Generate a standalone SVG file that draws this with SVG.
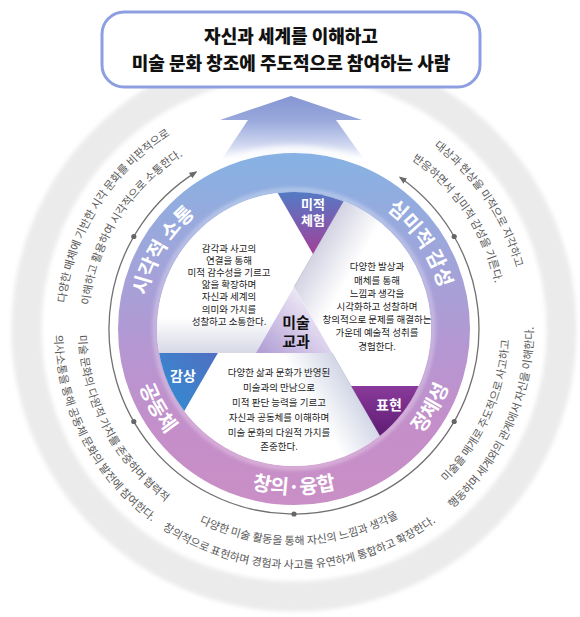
<svg xmlns="http://www.w3.org/2000/svg" width="580" height="617" viewBox="0 0 580 617">
<style>
text { font-family: "Noto Sans CJK KR", "Noto Sans", sans-serif; }
.outer { font-size: 11px; fill: #585858; }
.band { font-size: 20px; font-weight: 700; fill: #ffffff; }
.panel { font-size: 9.5px; fill: #222222; text-anchor: middle; }
.tri { font-size: 13px; font-weight: 700; fill: #ffffff; text-anchor: middle; }
.tri2 { font-size: 14px; font-weight: 700; fill: #ffffff; text-anchor: middle; }
.core { font-size: 15px; font-weight: 700; fill: #111111; text-anchor: middle; }
.title { font-size: 18px; font-weight: 900; fill: #111111; text-anchor: middle; }
.edge { stroke: #b9bbcc; stroke-width: 0.6; }
</style>
<defs>
<linearGradient id="bandGrad" gradientUnits="userSpaceOnUse" x1="0" y1="153" x2="0" y2="505">
 <stop offset="0" stop-color="#86b2e3"/>
 <stop offset="0.3" stop-color="#a0a5da"/>
 <stop offset="0.55" stop-color="#b597d2"/>
 <stop offset="0.8" stop-color="#c58ec9"/>
 <stop offset="1" stop-color="#c98fc6"/>
</linearGradient>
<linearGradient id="arrowGrad" gradientUnits="userSpaceOnUse" x1="0" y1="96" x2="0" y2="160">
 <stop offset="0" stop-color="#8495d2"/>
 <stop offset="0.4" stop-color="#9aaadc"/>
 <stop offset="0.75" stop-color="#cdd5ef"/>
 <stop offset="1" stop-color="#ffffff"/>
</linearGradient>
<linearGradient id="gMijeok" gradientUnits="userSpaceOnUse" x1="310" y1="193" x2="313" y2="254">
 <stop offset="0" stop-color="#5679c4"/>
 <stop offset="1" stop-color="#a2409a"/>
</linearGradient>
<linearGradient id="gGamsang" gradientUnits="userSpaceOnUse" x1="165" y1="405" x2="215" y2="355">
 <stop offset="0" stop-color="#348bd2"/>
 <stop offset="1" stop-color="#4f70c2"/>
</linearGradient>
<linearGradient id="gPyohyeon" gradientUnits="userSpaceOnUse" x1="385" y1="386" x2="385" y2="436">
 <stop offset="0" stop-color="#8a3a9a"/>
 <stop offset="1" stop-color="#5e1c74"/>
</linearGradient>
<linearGradient id="gCenter" gradientUnits="userSpaceOnUse" x1="320" y1="300" x2="265" y2="355">
 <stop offset="0" stop-color="#f4f0fa"/>
 <stop offset="1" stop-color="#b3a0d6"/>
</linearGradient>
<linearGradient id="shUL" gradientUnits="userSpaceOnUse" x1="0" y1="353" x2="0" y2="318">
 <stop offset="0" stop-color="#d6d8e6"/>
 <stop offset="1" stop-color="#ffffff"/>
</linearGradient>
<linearGradient id="shR" gradientUnits="userSpaceOnUse" x1="313" y1="254" x2="350" y2="276">
 <stop offset="0" stop-color="#d3d3e3"/>
 <stop offset="1" stop-color="#ffffff"/>
</linearGradient>
<linearGradient id="shB" gradientUnits="userSpaceOnUse" x1="351" y1="386" x2="314" y2="408">
 <stop offset="0" stop-color="#d3d7e6"/>
 <stop offset="1" stop-color="#ffffff"/>
</linearGradient>
<filter id="soft" x="-20%" y="-20%" width="140%" height="140%">
 <feGaussianBlur stdDeviation="2"/>
</filter>
<filter id="glow" x="-20%" y="-20%" width="140%" height="140%">
 <feGaussianBlur stdDeviation="3"/>
</filter>
<marker id="arr" viewBox="0 0 10 10" refX="8" refY="5" markerWidth="8" markerHeight="8" markerUnits="userSpaceOnUse" orient="auto-start-reverse">
 <path d="M0 1 L10 5 L0 9 Z" fill="#6a6a6a"/>
</marker>
<path id="pBand1" d="M161.9 402.2 A151 151 0 0 1 296.6 178.0"/>
<path id="pBand2" d="M283.5 178.4 A151 151 0 0 1 429.7 395.2"/>
<path id="pBand3" d="M151.1 246.5 A165 165 0 0 0 294 494"/>
<path id="pBand4" d="M151.1 411.5 A165 165 0 0 0 436.9 411.5"/>
<path id="pBand5" d="M294 494 A165 165 0 0 0 436.9 246.5"/>
<path id="pULo" d="M112.8 470.6 A230 230 0 0 1 341.8 104.0"/>
<path id="pULi" d="M131.7 455.8 A206 206 0 0 1 336.8 127.5"/>
<path id="pURo" d="M238.4 105.8 A230 230 0 0 1 480.1 464.2"/>
<path id="pURi" d="M244.2 129.1 A206 206 0 0 1 460.7 450.1"/>
<path id="pLLo" d="M117.4 167.2 A239.5 239.5 0 0 0 325.3 566.4"/>
<path id="pLLi" d="M135.1 183.4 A215.5 215.5 0 0 0 322.1 542.6"/>
<path id="pLRo" d="M277.3 567.9 A239.5 239.5 0 0 0 460.4 156.7"/>
<path id="pLRi" d="M279.0 544.0 A215.5 215.5 0 0 0 443.7 174.0"/>
<path id="pBo" d="M71.2 416.8 A239.5 239.5 0 0 0 521.1 405.0"/>
<path id="pBi" d="M93.5 408.0 A215.5 215.5 0 0 0 498.4 397.4"/>
</defs>

<rect width="580" height="617" fill="#ffffff"/>

<g id="outer-ring">
 <circle cx="294" cy="329" r="267.5" fill="none" stroke="#ebebeb" stroke-width="30" filter="url(#soft)"/>
</g>

<g id="goal-arrow">
 <polygon points="291,96 362,120 336,120 366,162 220,162 248,120 220,120" fill="url(#arrowGrad)"/>
</g>

<g id="title">
 <rect x="102" y="12" width="378" height="75" rx="22" fill="#ffffff" stroke="#8d9fe0" stroke-width="3"/>
 <text class="title" x="291" y="42.5">자신과 세계를 이해하고</text>
 <text class="title" x="291" y="69.5">미술 문화 창조에 주도적으로 참여하는 사람</text>
</g>

<g id="competency-ring">
 <circle cx="294" cy="329" r="179" fill="none" stroke="#ffffff" stroke-width="8" filter="url(#glow)"/>
 <circle cx="294" cy="329" r="137" fill="#ffffff"/>
 <circle cx="294" cy="329" r="156.5" fill="none" stroke="url(#bandGrad)" stroke-width="39"/>
 <circle cx="294" cy="329" r="139" fill="none" stroke="#ffffff" stroke-width="3" opacity="0.5" filter="url(#soft)"/>
 <text class="band"><textPath href="#pBand1" startOffset="50%" text-anchor="middle">시각적 소통</textPath></text>
 <text class="band"><textPath href="#pBand2" startOffset="50%" text-anchor="middle">심미적 감성</textPath></text>
 <text class="band"><textPath href="#pBand3" startOffset="50%" text-anchor="middle">공동체</textPath></text>
 <text class="band"><textPath href="#pBand4" startOffset="50%" text-anchor="middle">창의·융합</textPath></text>
 <text class="band"><textPath href="#pBand5" startOffset="50%" text-anchor="middle">정체성</textPath></text>
</g>

<g id="connectors">
 <path d="M400.1 177.5 A185 185 0 1 1 196.0 172.1" fill="none" stroke="#707070" stroke-width="1.3" marker-start="url(#arr)" marker-end="url(#arr)"/>
 <g fill="#666666">
  <circle cx="133.8" cy="236.5" r="2.6"/>
  <circle cx="454.2" cy="236.5" r="2.6"/>
  <circle cx="454.2" cy="421.5" r="2.6"/>
  <circle cx="294" cy="514" r="2.6"/>
  <circle cx="133.8" cy="421.5" r="2.6"/>
 </g>
</g>

<g id="desc-visual">
 <text class="outer"><textPath href="#pULo" startOffset="50%" text-anchor="middle">다양한 매체에 기반한 시각 문화를 비판적으로</textPath></text>
 <text class="outer"><textPath href="#pULi" startOffset="50%" text-anchor="middle">이해하고 활용하여 시각적으로 소통한다.</textPath></text>
</g>
<g id="desc-aesthetic">
 <text class="outer"><textPath href="#pURo" startOffset="50%" text-anchor="middle">대상과 현상을 미적으로 지각하고</textPath></text>
 <text class="outer"><textPath href="#pURi" startOffset="50%" text-anchor="middle">반응하면서 심미적 감성을 기른다.</textPath></text>
</g>
<g id="desc-community">
 <text class="outer"><textPath href="#pLLi" startOffset="50%" text-anchor="middle">미술 문화의 다원적 가치를 존중하며 협력적</textPath></text>
 <text class="outer"><textPath href="#pLLo" startOffset="50%" text-anchor="middle">의사소통을 통해 공동체 문화의 발전에 참여한다.</textPath></text>
</g>
<g id="desc-identity">
 <text class="outer"><textPath href="#pLRi" startOffset="50%" text-anchor="middle">미술을 매개로 주도적으로 사고하고</textPath></text>
 <text class="outer"><textPath href="#pLRo" startOffset="50%" text-anchor="middle">행동하며 세계와의 관계에서 자신을 이해한다.</textPath></text>
</g>
<g id="desc-creative">
 <text class="outer"><textPath href="#pBi" startOffset="50%" text-anchor="middle">다양한 미술 활동을 통해 자신의 느낌과 생각을</textPath></text>
 <text class="outer"><textPath href="#pBo" startOffset="50%" text-anchor="middle">창의적으로 표현하며 경험과 사고를 유연하게 통합하고 확장한다.</textPath></text>
</g>

<g id="panel-experience">
 <path d="M159.1 353 A137 137 0 0 1 277.7 193.0 L313 254.1 L255.9 353 Z" fill="url(#shUL)"/>
 <text class="panel" x="229" y="251.5">감각과 사고의</text>
 <text class="panel" x="229" y="263.7">연결을 통해</text>
 <text class="panel" x="229" y="275.9">미적 감수성을 기르고</text>
 <text class="panel" x="229" y="288.1">앎을 확장하며</text>
 <text class="panel" x="229" y="300.3">자신과 세계의</text>
 <text class="panel" x="229" y="312.5">의미와 가치를</text>
 <text class="panel" x="229" y="324.7">성찰하고 소통한다.</text>
</g>

<g id="panel-expression">
 <path d="M343.5 201.3 A137 137 0 0 1 418.6 385.9 L351.1 385.9 L294 287 Z" fill="url(#shR)"/>
 <line class="edge" x1="343.5" y1="201.3" x2="294" y2="287"/>
 <text class="panel" x="377" y="270.3">다양한 발상과</text>
 <text class="panel" x="377" y="283.5">매체를 통해</text>
 <text class="panel" x="377" y="296.7">느낌과 생각을</text>
 <text class="panel" x="377" y="309.9">시각화하고 성찰하며</text>
 <text class="panel" x="377" y="323.1">창의적으로 문제를 해결하는</text>
 <text class="panel" x="377" y="336.3">가운데 예술적 성취를</text>
 <text class="panel" x="377" y="349.5">경험한다.</text>
</g>

<g id="panel-appreciation">
 <path d="M379.9 435.7 A137 137 0 0 1 184.3 411.1 L217.9 353 L332.1 353 Z" fill="url(#shB)"/>
 <line class="edge" x1="332.1" y1="353" x2="379.9" y2="435.7"/>
 <text class="panel" x="279" y="376.3">다양한 삶과 문화가 반영된</text>
 <text class="panel" x="279" y="391.1">미술과의 만남으로</text>
 <text class="panel" x="279" y="405.9">미적 판단 능력을 기르고</text>
 <text class="panel" x="279" y="420.7">자신과 공동체를 이해하며</text>
 <text class="panel" x="279" y="435.5">미술 문화의 다원적 가치를</text>
 <text class="panel" x="279" y="450.3">존중한다.</text>
</g>

<g id="node-center">
 <path d="M294 287 L255.9 353 L332.1 353 Z" fill="url(#gCenter)"/>
 <text class="core" x="296" y="328">미술</text>
 <text class="core" x="296" y="347">교과</text>
</g>

<g id="node-aesthetic-experience">
 <path d="M277.7 193.0 A137 137 0 0 1 343.5 201.3 L313 254.1 Z" fill="url(#gMijeok)"/>
 <text class="tri" x="313" y="208.5">미적</text>
 <text class="tri" x="313" y="224.5">체험</text>
</g>

<g id="node-appreciation">
 <path d="M184.3 411.1 A137 137 0 0 1 159.1 353 L217.9 353 Z" fill="url(#gGamsang)"/>
 <text class="tri2" x="183" y="381">감상</text>
</g>

<g id="node-expression">
 <path d="M418.6 385.9 A137 137 0 0 1 379.9 435.7 L351.1 385.9 Z" fill="url(#gPyohyeon)"/>
 <text class="tri2" x="389" y="410">표현</text>
</g>
</svg>
